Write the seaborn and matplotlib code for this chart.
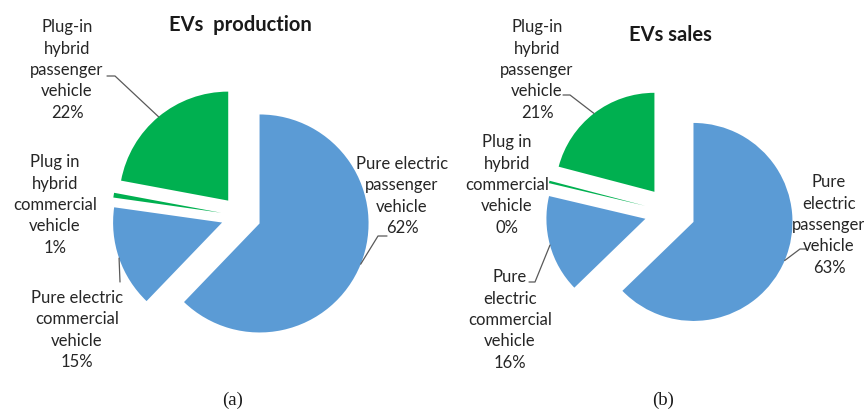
import numpy as np
import matplotlib
matplotlib.use("Agg")
import matplotlib.pyplot as plt
import seaborn as sns

# shares (%), clockwise from 12 o'clock
categories = ["Pure electric passenger vehicle", "Pure electric commercial vehicle",
              "Plug in hybrid commercial vehicle", "Plug-in hybrid passenger vehicle"]
production_pct = [62, 15, 0.7, 22]
sales_pct = [63, 16, 0.4, 21]

production_names = ["Pure electric\npassenger\nvehicle", "Pure electric\ncommercial\nvehicle",
                    "Plug in\nhybrid\ncommercial\nvehicle", "Plug-in\nhybrid\npassenger\nvehicle"]
sales_names = ["Pure\nelectric\npassenger\nvehicle", "Pure\nelectric\ncommercial\nvehicle",
               "Plug in\nhybrid\ncommercial\nvehicle", "Plug-in\nhybrid\npassenger\nvehicle"]
titles = ["EVs  production", "EVs sales"]
captions = ["(a)", "(b)"]

slice_colors = ["#5B9BD5", "#5B9BD5", "#00B050", "#00B050"]

sns.set_theme(style="white")
plt.rcParams["font.family"] = ["Lato", "DejaVu Sans"]

W, H = 864, 410
fig = plt.figure(figsize=(W / 100, H / 100), dpi=100)
ax = fig.add_axes([0, 0, 1, 1])


def px(x, y):
    # pixel position (y down) -> data coords
    return (x, H - y)


# layout of the two panels in pixels (explode is an offset in pixels too)
panels = [
    dict(values=production_pct, names=production_names, title=titles[0], caption=captions[0],
         center=(241, 217), r=109, explode=20, title_xy=(240, 25), caption_xy=(233, 400),
         label_xy=[(402, 196), (77, 330), (55, 205), (67, 70)],
         leader=[[(378, 237), (387, 237)], [(120, 283)], None, [(115, 77), (107, 77)]]),
    dict(values=sales_pct, names=sales_names, title=titles[1], caption=captions[1],
         center=(670, 213), r=99, explode=25.5, title_xy=(670, 35), caption_xy=(663, 400),
         label_xy=[(829, 225), (510, 320), (507, 185), (537, 70)],
         leader=[[(800, 250), (806, 250)], [(535, 283), (529, 283)], None, [(570, 96), (563, 96)]]),
]

for p in panels:
    wedges, _ = ax.pie(p["values"], colors=slice_colors, startangle=90, counterclock=False,
                       explode=[p["explode"]] * len(p["values"]), center=px(*p["center"]),
                       radius=p["r"], wedgeprops=dict(linewidth=0))
    for w, name, v, lxy, lead in zip(wedges, p["names"], p["values"], p["label_xy"], p["leader"]):
        ax.text(*px(*lxy), f"{name}\n{v:.0f}%", ha="center", va="center",
                fontsize=12, linespacing=1.42, color="#262626")
        if lead is None:
            continue
        mid = np.deg2rad((w.theta1 + w.theta2) / 2)
        start = (w.center[0] + w.r * np.cos(mid), w.center[1] + w.r * np.sin(mid))
        pts = [start] + [px(*q) for q in lead]
        xs, ys = zip(*pts)
        ax.plot(xs, ys, color="#595959", lw=0.9)
    ax.text(*px(*p["title_xy"]), p["title"], ha="center", va="center",
            fontsize=14.5, fontweight="bold", color="#1a1a1a")
    ax.text(*px(*p["caption_xy"]), p["caption"], ha="center", va="center",
            fontsize=13.5, family="Liberation Serif", color="#1a1a1a")

ax.set_xlim(0, W)
ax.set_ylim(0, H)
ax.set_aspect("equal")
ax.axis("off")

fig.savefig("out.png", dpi=100)
